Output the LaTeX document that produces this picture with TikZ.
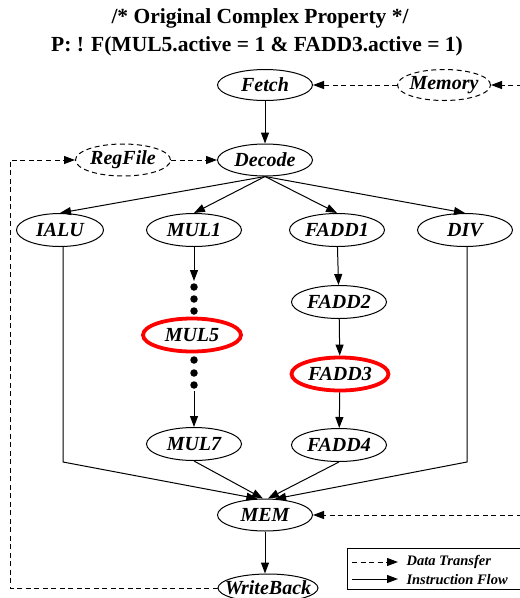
\documentclass[tikz,border=0pt]{standalone}
\usepackage{fontspec}
\setmainfont{Liberation Serif}
\usetikzlibrary{shapes.geometric,arrows.meta}
\begin{document}
\begin{tikzpicture}[x=1pt,y=-1pt,
	stage/.style={ellipse,draw,line width=1pt,minimum width=95pt,minimum height=33pt,inner xsep=-10pt,inner ysep=0pt,font=\fontsize{20}{20}\selectfont\bfseries\itshape},
	store/.style={stage,dash pattern=on 5pt off 3.5pt},
	hot/.style={stage,draw=red,line width=3.8pt},
	flow/.style={-{Triangle[length=11pt,width=8pt]},line width=1pt},
	data/.style={flow,dash pattern=on 5pt off 3.5pt},
	pipedot/.style={circle,fill,inner sep=0pt,minimum size=7.5pt}]
	\useasboundingbox (0,0) rectangle (520,598);
	%--- title
	\node (title) at (260,18) {\fontsize{21.5}{21.5}\selectfont\bfseries /* Original Complex Property */};
	\node (prop) at (257,46) {\fontsize{21.5}{21.5}\selectfont\bfseries P: ! F(MUL5.active = 1 \& FADD3.active = 1)};
	
	%--- front end
	\node[stage, minimum height=31pt] (fetch) at (265,85) {Fetch};
	\node[store, minimum height=31pt, minimum width=93pt] (memory) at (444,85) {Memory};
	\node[stage, minimum height=32pt] (decode) at (265,160) {Decode};
	\node[store, minimum height=32pt] (regfile) at (123,160) {RegFile};
	
	%--- units
	\node[stage, minimum width=87pt] (ialu) at (60,230) {IALU};
	\node[stage] (mul1) at (194,230) {MUL1};
	\node[stage] (fadd1) at (337,230) {FADD1};
	\node[stage] (div) at (465,230) {DIV};
	
	\node[pipedot] (dotA) at (194,287) {};
	\node[pipedot] (dotB) at (194,299) {};
	\node[pipedot] (dotC) at (194,311) {};
	\node[hot, minimum width=98pt] (mul5) at (192,335) {MUL5};
	\node[pipedot] (dotD) at (194,360) {};
	\node[pipedot] (dotE) at (194,373) {};
	\node[pipedot] (dotF) at (194,385) {};
	\node[stage] (mul7) at (194,444) {MUL7};
	
	\node[stage] (fadd2) at (339,302) {FADD2};
	\node[hot, minimum width=97pt] (fadd3) at (340,374) {FADD3};
	\node[stage] (fadd4) at (339,445) {FADD4};
	
	%--- back end
	\node[stage, minimum height=32pt] (mem) at (265,515) {MEM};
	\node[stage, minimum width=100pt, minimum height=28pt, inner xsep=-14pt] (wb) at (268,588) {WriteBack};
	
	\coordinate (memIn) at (530,85);
	\coordinate (memBus) at (530,515);
	\coordinate (loopLow) at (10,588);
	\coordinate (loopHigh) at (10,160);
	\coordinate (ialuBend) at (63,462);
	\coordinate (divBend) at (467,462);
	\coordinate (mulTop) at (194,281);
	\coordinate (mulLow) at (194,391);
	
	%--- instruction flow
	\draw[flow] (fetch) -- (decode);
	\draw[flow] (decode.south) -- (ialu.north);
	\draw[flow] (decode.south) -- (mul1.north);
	\draw[flow] (decode.south) -- (fadd1.north);
	\draw[flow] (decode.south) -- (div.north);
	\draw[flow] (mul1) -- (mulTop);
	\draw[flow] (mulLow) -- (mul7);
	\draw[flow] (fadd1) -- (fadd2);
	\draw[flow] (fadd2) -- (fadd3);
	\draw[flow] (fadd3) -- (fadd4);
	\draw[flow] (ialu.south -| ialuBend) -- (ialuBend) -- (mem.115);
	\draw[flow] (div.south -| divBend) -- (divBend) -- (mem.58);
	\draw[flow] (mul7.south) -- (mem.97);
	\draw[flow] (fadd4.south) -- (mem.80);
	\draw[flow] (mem.south) -- (mem.south |- wb.north);
	
	%--- data transfer
	\draw[data] (memIn) -- (memory);
	\draw[data] (memory) -- (fetch);
	\draw[data] (regfile) -- (decode);
	\draw[data] (memBus) -- (mem);
	\draw[data] (wb) -- (loopLow) -- (loopHigh) -- (regfile);
	
	%--- legend
	\draw[line width=1pt] (347,548) rectangle (530,589);
	\coordinate (keyA) at (352,562);
	\coordinate (keyB) at (398,562);
	\coordinate (keyC) at (352,579);
	\coordinate (keyD) at (398,579);
	\draw[data] (keyA) -- (keyB);
	\draw[flow] (keyC) -- (keyD);
	\node[anchor=west, font=\fontsize{14.5}{14.5}\selectfont\bfseries\itshape] (keyData) at (403,562) {Data Transfer};
	\node[anchor=west, font=\fontsize{14.5}{14.5}\selectfont\bfseries\itshape] (keyFlow) at (403,580) {Instruction Flow};
\end{tikzpicture}
\end{document}
